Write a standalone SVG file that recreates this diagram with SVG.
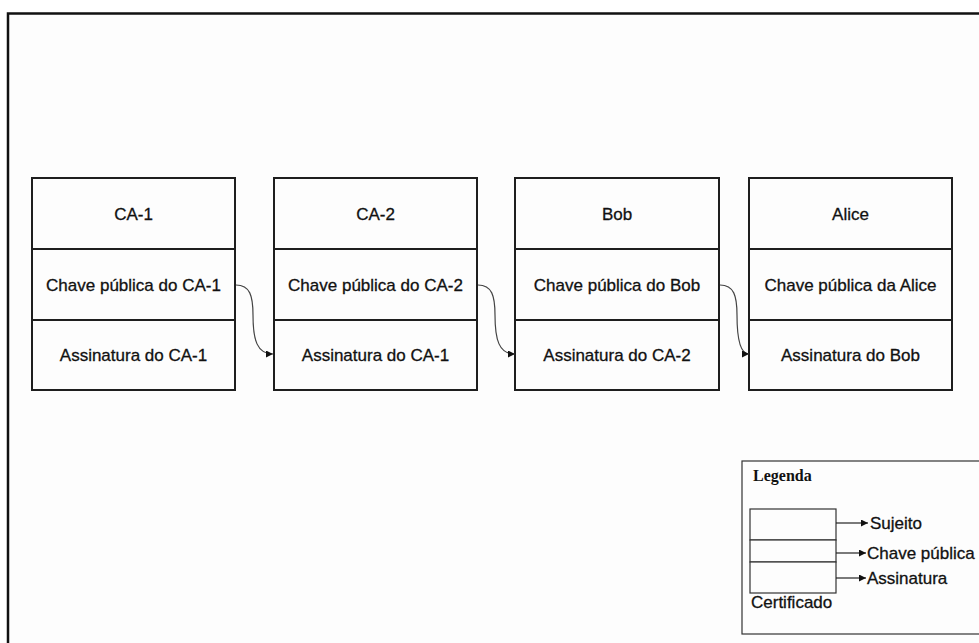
<svg xmlns="http://www.w3.org/2000/svg" width="979" height="643" viewBox="0 0 979 643">
  <style>
    .frame { fill: #fdfdfd; stroke: #111; stroke-width: 2.5; }
    .cell { fill: #fdfdfd; stroke: #1e1e1e; stroke-width: 2; }
    .lbl { font-family: "Liberation Sans", Arial, sans-serif; font-size: 17px; fill: #111; stroke: #111; stroke-width: 0.3; text-anchor: middle; }
    .leg { font-family: "Liberation Sans", Arial, sans-serif; font-size: 17px; fill: #111; stroke: #111; stroke-width: 0.3; }
    .legtitle { font-family: "Liberation Serif", "Times New Roman", serif; font-size: 16px; font-weight: bold; fill: #111; }
    .link { fill: none; stroke: #444; stroke-width: 1.2; marker-end: url(#tip); }
    .legline { fill: none; stroke: #222; stroke-width: 1.2; marker-end: url(#tip); }
    .legbox { fill: #fdfdfd; stroke: #333; stroke-width: 1.2; }
  </style>
  <defs>
    <marker id="tip" viewBox="0 0 10 10" refX="10" refY="5" markerWidth="7" markerHeight="7" markerUnits="userSpaceOnUse" orient="auto">
      <path d="M0,0 L10,5 L0,10 z" fill="#111"/>
    </marker>
  </defs>

  <rect x="0" y="0" width="979" height="643" fill="#ffffff"/>
  <rect class="frame" x="8" y="13.5" width="1000" height="700"/>

  <!-- certificate CA-1 -->
  <g id="cert-ca1">
    <rect class="cell" x="32" y="178" width="203" height="71"/>
    <rect class="cell" x="32" y="249" width="203" height="71"/>
    <rect class="cell" x="32" y="320" width="203" height="70"/>
    <text class="lbl" x="133.5" y="220">CA-1</text>
    <text class="lbl" x="133.5" y="291">Chave pública do CA-1</text>
    <text class="lbl" x="133.5" y="361">Assinatura do CA-1</text>
  </g>

  <!-- certificate CA-2 -->
  <g id="cert-ca2">
    <rect class="cell" x="274" y="178" width="203" height="71"/>
    <rect class="cell" x="274" y="249" width="203" height="71"/>
    <rect class="cell" x="274" y="320" width="203" height="70"/>
    <text class="lbl" x="375.5" y="220">CA-2</text>
    <text class="lbl" x="375.5" y="291">Chave pública do CA-2</text>
    <text class="lbl" x="375.5" y="361">Assinatura do CA-1</text>
  </g>

  <!-- certificate Bob -->
  <g id="cert-bob">
    <rect class="cell" x="515" y="178" width="204" height="71"/>
    <rect class="cell" x="515" y="249" width="204" height="71"/>
    <rect class="cell" x="515" y="320" width="204" height="70"/>
    <text class="lbl" x="617" y="220">Bob</text>
    <text class="lbl" x="617" y="291">Chave pública do Bob</text>
    <text class="lbl" x="617" y="361">Assinatura do CA-2</text>
  </g>

  <!-- certificate Alice -->
  <g id="cert-alice">
    <rect class="cell" x="749" y="178" width="203" height="71"/>
    <rect class="cell" x="749" y="249" width="203" height="71"/>
    <rect class="cell" x="749" y="320" width="203" height="70"/>
    <text class="lbl" x="850.5" y="220">Alice</text>
    <text class="lbl" x="850.5" y="291">Chave pública da Alice</text>
    <text class="lbl" x="850.5" y="361">Assinatura do Bob</text>
  </g>

  <!-- signing links: public key of one certificate to the signature of the next -->
  <g id="links">
    <path class="link" d="M236,285 C250,285 253,296 253,315 C253,340 257,354 273,354"/>
    <path class="link" d="M478,285 C492,285 495,296 495,315 C495,340 499,354 515,354"/>
    <path class="link" d="M720,285 C734,285 737,296 737,315 C737,340 741,354 749,354"/>
  </g>

  <!-- legend -->
  <g id="legend">
    <rect class="legbox" x="742" y="461" width="260" height="173"/>
    <text class="legtitle" x="753" y="481">Legenda</text>
    <rect class="legbox" x="750" y="509" width="86" height="31"/>
    <rect class="legbox" x="750" y="540" width="86" height="22"/>
    <rect class="legbox" x="750" y="562" width="86" height="31"/>
    <path class="legline" d="M836,523 L868,523"/>
    <path class="legline" d="M836,553 L866,553"/>
    <path class="legline" d="M836,578 L866,578"/>
    <text class="leg" x="870" y="529">Sujeito</text>
    <text class="leg" x="867" y="559">Chave pública</text>
    <text class="leg" x="867" y="584">Assinatura</text>
    <text class="leg" x="751" y="608">Certificado</text>
  </g>
</svg>
